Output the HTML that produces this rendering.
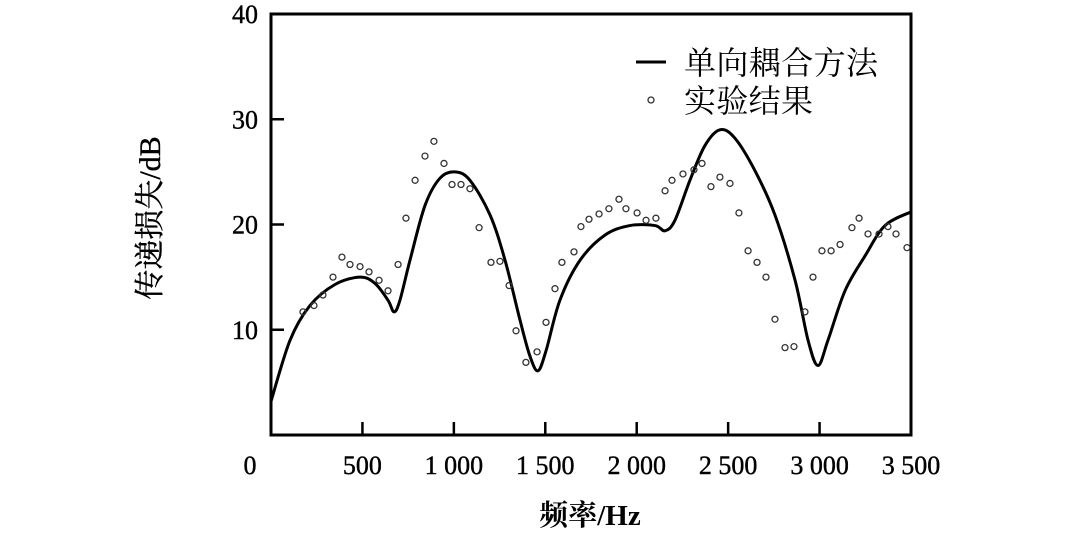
<!DOCTYPE html>
<html><head><meta charset="utf-8"><style>
body{margin:0;background:#fff;}
svg text{font-family:"Liberation Serif","Noto Serif CJK SC","Noto Sans CJK SC",serif;fill:#000;}
</style></head><body>
<svg id="chart" width="1090" height="532" viewBox="0 0 1090 532">
<g id="axes"></g><g id="marks"></g>
<g>
<line x1="636" y1="62" x2="666" y2="62" stroke="#000" stroke-width="3"/>
<text x="684" y="74" font-size="32" textLength="194">单向耦合方法</text>
<circle cx="651" cy="100" r="3" fill="none" stroke="#333" stroke-width="1.3"/>
<text x="684" y="112" font-size="32" textLength="129">实验结果</text>
</g>
<text x="590" y="525" font-size="29" font-weight="bold" text-anchor="middle">频率/Hz</text>
<text transform="translate(160,218) rotate(-90)" font-size="30" stroke="#000" stroke-width="0.4" text-anchor="middle">传递损失/dB</text>
</svg>
<script>
const curveX=[0,104,213,350,487,569,640,673,705,760,842,924,1006,1088,1198,1280,1362,1416,1460,1504,1580,1690,1827,1963,2100,2155,2209,2291,2373,2455,2537,2647,2756,2866,2937,2991,3046,3139,3248,3358,3500];
const curveY=[3.2,9.0,12.3,14.3,15.0,14.4,12.8,11.7,12.8,16.6,21.8,24.4,25.0,24.2,20.9,16.6,10.9,7.5,6.1,8.0,12.8,16.6,19.0,19.9,19.9,19.4,20.4,24.2,27.5,29.0,28.2,25.1,20.9,14.7,9.0,6.6,9.0,13.7,17.0,19.9,21.2];
const expX=[175,235,284,339,388,432,487,536,591,640,695,738,788,842,891,946,990,1039,1088,1138,1203,1252,1302,1340,1394,1455,1504,1553,1591,1657,1695,1739,1794,1848,1903,1941,2002,2051,2105,2155,2193,2253,2313,2357,2406,2455,2510,2559,2609,2658,2707,2756,2811,2860,2920,2964,3013,3063,3112,3177,3216,3265,3325,3374,3418,3478];
const expY=[11.7,12.3,13.3,15.0,16.9,16.2,16.0,15.5,14.7,13.7,16.2,20.6,24.2,26.5,27.9,25.8,23.8,23.8,23.4,19.7,16.4,16.5,14.2,9.9,6.9,7.9,10.7,13.9,16.4,17.4,19.8,20.5,21.0,21.5,22.4,21.5,21.1,20.4,20.6,23.2,24.2,24.8,25.2,25.8,23.6,24.5,23.9,21.1,17.5,16.4,15.0,11.0,8.3,8.4,11.7,15.0,17.5,17.5,18.1,19.7,20.6,19.1,19.1,19.8,19.1,17.8];
const xTicks=[500,1000,1500,2000,2500,3000,3500];
const xTickLabels=["500","1 000","1 500","2 000","2 500","3 000","3 500"];
const yTicks=[10,20,30,40];
const yTickLabels=["10","20","30","40"];
const L=271,R=911,T=14,B=435;
const sx=v=>L+v/3500*(R-L), sy=v=>B-v/40*(B-T);
const NS="http://www.w3.org/2000/svg";
const ax=document.getElementById('axes'), mk=document.getElementById('marks');
function mkEl(tag,attrs,parent){const e=document.createElementNS(NS,tag);for(const k in attrs)e.setAttribute(k,attrs[k]);parent.appendChild(e);return e;}
const frame=mkEl('rect',{x:L,y:T,width:R-L,height:B-T,fill:'none',stroke:'#000','stroke-width':3},ax);


xTicks.forEach((v,i)=>{
  if(v<3500){const t=mkEl('line',{x1:sx(v),x2:sx(v),y1:B,y2:B-13,stroke:'#000','stroke-width':2.5},ax);
  
  }
  const tx=mkEl('text',{x:sx(v),y:474,'font-size':26,'text-anchor':'middle',stroke:'#000','stroke-width':0.4},ax);tx.textContent=xTickLabels[i];
  
  
});
const z=mkEl('text',{x:250,y:474,'font-size':26,'text-anchor':'middle',stroke:'#000','stroke-width':0.4},ax);z.textContent='0';


yTicks.forEach((v,i)=>{
  if(v<40){const t=mkEl('line',{x1:L,x2:L+13,y1:sy(v),y2:sy(v),stroke:'#000','stroke-width':2.5},ax);
  
  }
  const tx=mkEl('text',{x:258,y:sy(v)+9,'font-size':26,'text-anchor':'end',stroke:'#000','stroke-width':0.4},ax);tx.textContent=yTickLabels[i];
  
  
});
const P=curveX.map((x,i)=>[sx(x),sy(curveY[i])]);
let d=`M${P[0][0]},${P[0][1]}`;
for(let i=0;i<P.length-1;i++){const p0=P[Math.max(0,i-1)],p1=P[i],p2=P[i+1],p3=P[Math.min(P.length-1,i+2)];
d+=` C${p1[0]+(p2[0]-p0[0])/6},${p1[1]+(p2[1]-p0[1])/6} ${p2[0]-(p3[0]-p1[0])/6},${p2[1]-(p3[1]-p1[1])/6} ${p2[0]},${p2[1]}`;}
const path=mkEl('path',{d:d,fill:'none',stroke:'#000','stroke-width':3},mk);


expX.forEach((x,i)=>{const c=mkEl('circle',{cx:sx(x),cy:sy(expY[i]),r:3,fill:'none',stroke:'#333','stroke-width':1.3},mk);

});
</script>
</body></html>
